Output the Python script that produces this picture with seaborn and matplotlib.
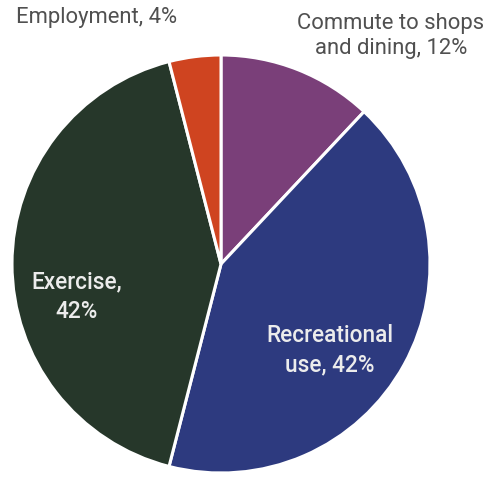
import matplotlib
matplotlib.use("Agg")
import matplotlib.pyplot as plt
import seaborn as sns

# Trip purposes, listed clockwise from 12 o'clock
categories = ["Commute to shops\nand dining", "Recreational\nuse", "Exercise", "Employment"]
shares = [12, 42, 42, 4]
label_texts = ["Commute to shops\nand dining, 12%", "Recreational\nuse, 42%", "Exercise,\n42%", "Employment, 4%"]
colors = ["#7a3f79", "#2d3a7f", "#26372a", "#cf4420"]

sns.set_theme(style="white")
plt.rcParams["font.family"] = ["Roboto", "DejaVu Sans"]

W, H = 485, 478
fig = plt.figure(figsize=(W / 100, H / 100), dpi=100)
fig.patch.set_facecolor("white")

# Pie occupies a 418 px square, left edge at x=12, top edge at y=55
ax = fig.add_axes([12 / W, (H - 473) / H, 418 / W, 418 / H])
wedges, _ = ax.pie(
    shares,
    colors=colors,
    startangle=90,
    counterclock=False,
    wedgeprops=dict(edgecolor="white", linewidth=2.2),
)
ax.set_xlim(-1, 1)
ax.set_ylim(-1, 1)
ax.set_aspect("equal")
ax.axis("off")

def px(x, y):
    return x / W, 1 - y / H

outer = "#505050"
fig.text(*px(97, 18), label_texts[3], ha="center", va="center", color=outer, fontsize=15.8)
fig.text(*px(391, 36), label_texts[0], ha="center", va="center", color=outer,
         fontsize=15.8, linespacing=1.3)
fig.text(*px(77, 297), label_texts[2], ha="center", va="center", color="#ececec",
         fontsize=16.3, fontweight="medium", linespacing=1.35)
fig.text(*px(330, 350), label_texts[1], ha="center", va="center", color="#ececec",
         fontsize=16.3, fontweight="medium", linespacing=1.35)

fig.savefig("out.png", dpi=100, facecolor="white")
